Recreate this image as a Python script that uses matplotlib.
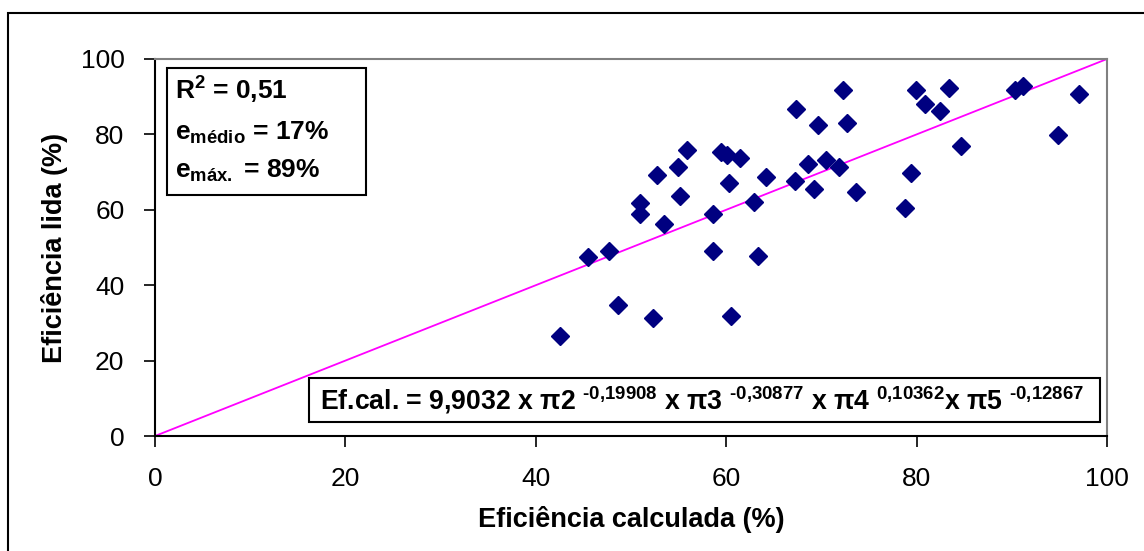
import matplotlib
matplotlib.use("Agg")
import matplotlib.pyplot as plt
from matplotlib.patches import Rectangle

plt.rcParams['font.family'] = ['Liberation Sans', 'DejaVu Sans']
plt.rcParams['mathtext.fontset'] = 'custom'
plt.rcParams['mathtext.rm'] = 'Liberation Sans:bold'
plt.rcParams['mathtext.it'] = 'Liberation Sans:bold'
plt.rcParams['mathtext.bf'] = 'Liberation Sans:bold'
plt.rcParams['mathtext.default'] = 'rm'

# Calculated vs. read efficiency (%)
ef_calculada = [42.5, 45.5, 47.7, 48.6, 50.9, 50.9, 52.3, 52.7, 53.5, 54.9,
                55.1, 55.9, 58.6, 58.6, 59.5, 60.1, 60.3, 60.5, 61.4, 62.9,
                63.3, 64.2, 67.2, 67.3, 68.6, 69.2, 69.6, 70.5, 71.8, 72.3,
                72.7, 73.6, 78.8, 79.4, 79.9, 80.9, 82.5, 83.4, 84.7, 90.3,
                91.2, 94.9, 97.1]
ef_lida = [26.4, 47.4, 49.0, 34.7, 61.7, 58.8, 31.4, 69.2, 56.2, 71.4,
           63.7, 75.9, 58.9, 49.0, 75.4, 74.5, 67.0, 31.8, 73.7, 62.1,
           47.8, 68.8, 67.6, 86.8, 72.1, 65.4, 82.5, 73.2, 71.4, 91.8,
           83.0, 64.8, 60.6, 69.8, 91.8, 88.0, 86.3, 92.4, 76.9, 91.8,
           92.9, 79.8, 90.7]

linha_x = [0, 100]
linha_y = [0, 100]
ticks = [0, 20, 40, 60, 80, 100]

stats_lines = ["R$^{2}$ = 0,51",
               "e$_{\\mathrm{médio}}$ = 17%",
               "e$_{\\mathrm{máx.}}$ = 89%"]
equation = ("Ef.cal. = 9,9032 x $\\pi$2 ${}^{\\text{-0,19908}}$ x "
            "$\\pi$3 ${}^{\\text{-0,30877}}$ x $\\pi$4 ${}^{\\text{0,10362}}$"
            "x $\\pi$5 ${}^{\\text{-0,12867}}$")

fig = plt.figure(figsize=(11.44, 5.51), dpi=100)
ax = fig.add_axes([155 / 1144, 1 - 436 / 551, 952 / 1144, 377 / 551])

# outer chart frame
fig.patches.append(Rectangle((8 / 1144, -0.1), 1.2, (551 - 13) / 551 + 0.1,
                             transform=fig.transFigure, fill=False,
                             edgecolor='black', linewidth=1.5, zorder=0))

ax.plot(linha_x, linha_y, color='#FF00FF', linewidth=1.3, zorder=2)
ax.plot(ef_calculada, ef_lida, linestyle='none', marker='D', markersize=9,
        color='#000080', zorder=3)

ax.set_xlim(0, 100)
ax.set_ylim(0, 100)
ax.set_xticks(ticks)
ax.set_yticks(ticks)
ax.tick_params(axis='both', direction='out', length=8, width=1.2,
               labelsize=19, color='black')
ax.tick_params(axis='x', pad=14)
ax.tick_params(axis='y', pad=14)

for s in ['top', 'right']:
    ax.spines[s].set_color('#808080')
    ax.spines[s].set_linewidth(1.5)
for s in ['left', 'bottom']:
    ax.spines[s].set_color('black')
    ax.spines[s].set_linewidth(1.5)

ax.set_xlabel('Eficiência calculada (%)', fontsize=19.5, fontweight='bold',
              labelpad=11)
ax.set_ylabel('Eficiência lida (%)', fontsize=19.5, fontweight='bold',
              labelpad=9)

# statistics box
ax.add_patch(Rectangle((0.0126, 0.639), 0.209, 0.337, transform=ax.transAxes,
                       facecolor='white', edgecolor='black', linewidth=1.5,
                       zorder=5))
for line, yb in zip(stats_lines, [0.891, 0.785, 0.684]):
    ax.text(0.021, yb, line, transform=ax.transAxes, fontsize=19,
            fontweight='bold', va='baseline', ha='left', zorder=6)

# regression equation box
ax.add_patch(Rectangle((0.1618, 0.037), 0.8309, 0.117, transform=ax.transAxes,
                       facecolor='white', edgecolor='black', linewidth=1.5,
                       zorder=5))
ax.text(0.173, 0.0955, equation, transform=ax.transAxes, fontsize=19.2,
        fontweight='bold', va='center', ha='left', zorder=6)

fig.savefig('out.png', dpi=100)
